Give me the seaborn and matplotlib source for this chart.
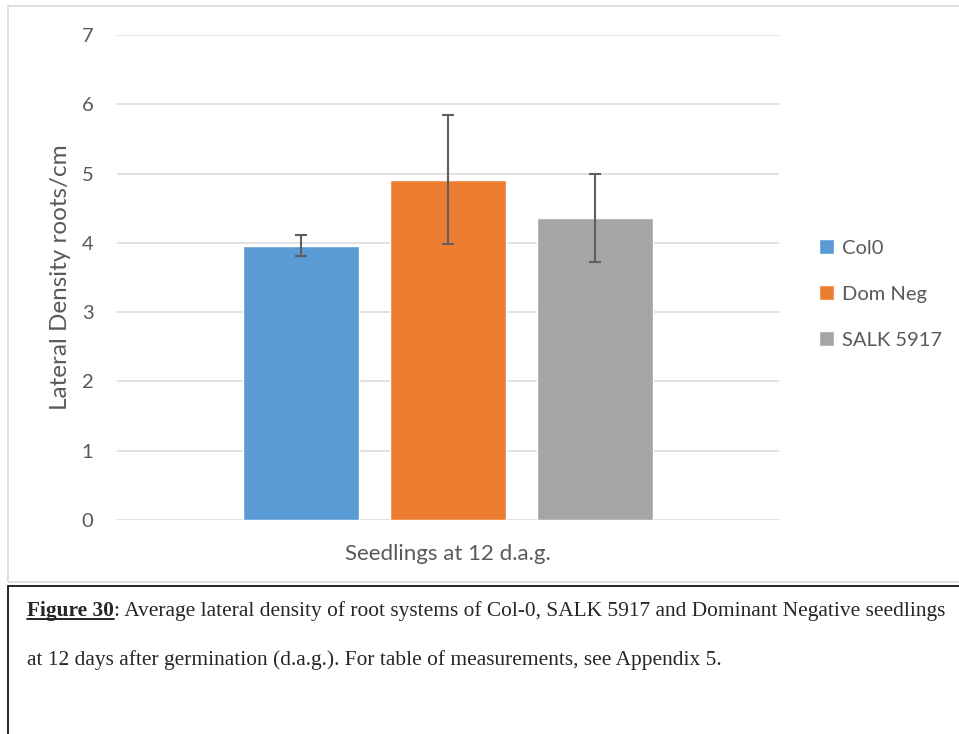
import numpy as np
import pandas as pd
import matplotlib
matplotlib.use('Agg')
import matplotlib.pyplot as plt
from matplotlib.patches import Rectangle
from matplotlib.lines import Line2D
import seaborn as sns

# values
category = ['Seedlings at 12 d.a.g.']
genotypes = ['Col0', 'Dom Neg', 'SALK 5917']
mean_density = [3.96, 4.91, 4.36]
err_density = [0.15, 0.93, 0.64]
yticks = [0, 1, 2, 3, 4, 5, 6, 7]

colors = ['#5B9BD5', '#ED7D31', '#A5A5A5']
text_grey = '#595959'

df = pd.DataFrame({
    'group': category * len(genotypes),
    'genotype': genotypes,
    'density': mean_density,
    'err': err_density,
})

sns.set_style('white')
plt.rcParams['font.family'] = ['Lato', 'DejaVu Sans']

fig = plt.figure(figsize=(9.59, 7.34), dpi=100)
ax = fig.add_axes([117 / 959, 1 - 520 / 734, 662 / 959, 485 / 734])

sns.barplot(data=df, x='group', y='density', hue='genotype', hue_order=genotypes,
            palette=colors, errorbar=None, width=0.666, gap=0.21, ax=ax,
            saturation=1)

# error bars on top of each bar, positioned from the drawn patches
bars = [p for p in ax.patches if p.get_height() > 0]
bars = sorted(bars, key=lambda p: p.get_x())
for p, e in zip(bars, df['err']):
    cx = p.get_x() + p.get_width() / 2
    ax.errorbar(cx, p.get_height(), yerr=e, color='#5f5f5f', elinewidth=1.5,
                capsize=4.5, capthick=1.5, zorder=5)

ax.set_ylim(0, 7)
ax.set_xlim(-0.5, 0.5)
ax.set_yticks(yticks)
ax.yaxis.grid(True, color='#d9d9d9', linewidth=1.1)
ax.set_axisbelow(True)
for s in ax.spines.values():
    s.set_visible(False)
ax.tick_params(axis='both', length=0, labelsize=14.5, labelcolor=text_grey)
ax.tick_params(axis='y', pad=17)
ax.tick_params(axis='x', pad=17, labelsize=16)
ax.set_xlabel('')
ax.set_ylabel('Lateral Density roots/cm', fontsize=17.5, color=text_grey, labelpad=8)

leg = ax.legend(loc='center left', bbox_to_anchor=(1.033, 0.466), frameon=False,
                fontsize=14.5, handlelength=0.75, handleheight=0.75,
                handletextpad=0.4, labelspacing=1.42)
for t in leg.get_texts():
    t.set_color(text_grey)

# chart border and caption box
fig.add_artist(Rectangle((8 / 959, 1 - 582 / 734), 1.0, 576 / 734,
                         transform=fig.transFigure, fill=False,
                         edgecolor='#d9d9d9', linewidth=1.2))
fig.add_artist(Rectangle((8 / 959, -0.05), 1.0, 1 - 586 / 734 + 0.05,
                         transform=fig.transFigure, fill=False,
                         edgecolor='black', linewidth=1.2))

# caption
serif = ['Liberation Serif', 'DejaVu Serif']
cap_size = 15.4
y1 = 1 - 616 / 734
t1 = fig.text(27 / 959, y1, 'Figure 30', family=serif, fontsize=cap_size,
              fontweight='bold', va='baseline')
t2 = fig.text(0, 0, ': Average lateral density of root systems of Col-0, SALK 5917 and Dominant Negative seedlings',
              family=serif, fontsize=cap_size, va='baseline')
fig.text(27 / 959, 1 - 665 / 734,
         'at 12 days after germination (d.a.g.). For table of measurements, see Appendix 5.',
         family=serif, fontsize=cap_size, va='baseline')

fig.canvas.draw()
r = fig.canvas.get_renderer()
bb = t1.get_window_extent(r)
t2.set_position((bb.x1 / fig.bbox.width, y1))
uy = y1 - 3 / 734
fig.add_artist(Line2D([bb.x0 / fig.bbox.width, bb.x1 / fig.bbox.width], [uy, uy],
                      transform=fig.transFigure, color='black', linewidth=1.2))

fig.savefig('out.png', dpi=100)
